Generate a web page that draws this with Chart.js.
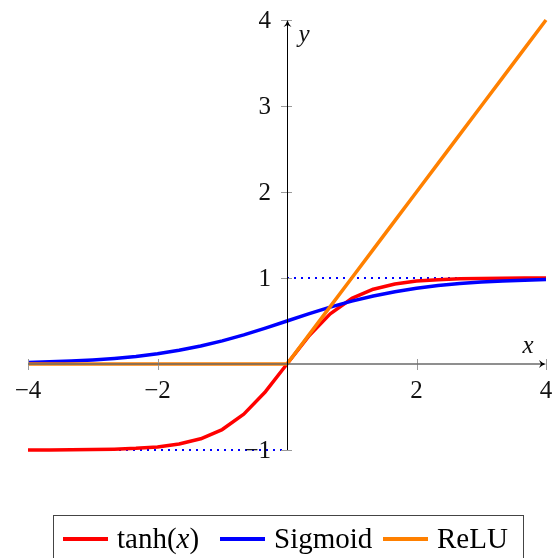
<!DOCTYPE html>
<html>
<head>
<meta charset="utf-8">
<script src="https://cdn.jsdelivr.net/npm/chart.js@4"></script>
<style>
  body { margin: 0; background: #fff; }
  #wrap { position: relative; width: 553px; height: 558px; overflow: hidden; }
  #legend {
    position: absolute; left: 53px; top: 515px; width: 469px; height: 60px;
    border: 1px solid #444; font-family: "Liberation Serif", serif; font-size: 29px;
  }
  .item { position: absolute; top: 6px; white-space: nowrap; }
  .swatch { display: inline-block; width: 45px; height: 4px; vertical-align: middle; margin-right: 9px; position: relative; top: -2px; }
</style>
</head>
<body>
<div id="wrap">
  <canvas id="plot" width="553" height="558"></canvas>
  <div id="legend"></div>
</div>
<script>
// sample points (25 samples on [-4, 4])
const xValues = [-4, -3.667, -3.333, -3, -2.667, -2.333, -2, -1.667, -1.333, -1, -0.667, -0.333, 0,
                 0.333, 0.667, 1, 1.333, 1.667, 2, 2.333, 2.667, 3, 3.333, 3.667, 4];
const tanhValues = [-0.999, -0.999, -0.997, -0.995, -0.990, -0.981, -0.964, -0.931, -0.870, -0.762, -0.583, -0.322, 0,
                    0.322, 0.583, 0.762, 0.870, 0.931, 0.964, 0.981, 0.990, 0.995, 0.997, 0.999, 0.999];
const sigmoidValues = [0.018, 0.025, 0.034, 0.047, 0.065, 0.088, 0.119, 0.159, 0.209, 0.269, 0.339, 0.417, 0.5,
                       0.583, 0.661, 0.731, 0.791, 0.841, 0.881, 0.912, 0.935, 0.953, 0.966, 0.975, 0.982];
const reluValues = [0, 0, 0, 0, 0, 0, 0, 0, 0, 0, 0, 0, 0,
                    0.333, 0.667, 1, 1.333, 1.667, 2, 2.333, 2.667, 3, 3.333, 3.667, 4];
const seriesNames = ['tanh(x)', 'Sigmoid', 'ReLU'];
const guideUpperX = [0, 4];
const guideUpperY = [1, 1];
const guideLowerX = [-4, 0];
const guideLowerY = [-1, -1];
const xTicks = [-4, -2, 2, 4];
const yTicks = [-1, 1, 2, 3, 4];

const RED = 'rgb(255,0,0)', BLUE = 'rgb(0,0,255)', ORANGE = 'rgb(255,128,0)';

function pts(xs, ys) {
    return xs.map((x, i) => ({ x: x, y: ys[i] }));
}

const axesPlugin = {
    id: 'axes',
    afterDatasetsDraw(chart) {
        const ctx = chart.ctx;
        const xs = chart.scales.x, ys = chart.scales.y;
        const x0 = xs.getPixelForValue(0);
        const y0 = ys.getPixelForValue(0);
        ctx.save();

        // tick marks
        ctx.strokeStyle = '#9a9a9a';
        ctx.lineWidth = 1;
        xTicks.forEach(v => {
            const px = Math.round(xs.getPixelForValue(v)) + 0.5;
            ctx.beginPath(); ctx.moveTo(px, y0 - 5); ctx.lineTo(px, y0 + 6); ctx.stroke();
        });
        yTicks.forEach(v => {
            const py = Math.round(ys.getPixelForValue(v)) + 0.5;
            ctx.beginPath(); ctx.moveTo(x0 - 6, py); ctx.lineTo(x0 + 5, py); ctx.stroke();
        });

        // x axis
        ctx.strokeStyle = '#6a6a6a';
        ctx.lineWidth = 1.3;
        ctx.beginPath(); ctx.moveTo(xs.left, y0); ctx.lineTo(xs.right - 2, y0); ctx.stroke();
        // y axis
        ctx.strokeStyle = '#000';
        ctx.lineWidth = 1;
        ctx.beginPath(); ctx.moveTo(x0 + 0.5, ys.bottom); ctx.lineTo(x0 + 0.5, ys.top + 2); ctx.stroke();

        // arrow heads
        ctx.fillStyle = '#000';
        ctx.beginPath();
        ctx.moveTo(xs.right, y0);
        ctx.quadraticCurveTo(xs.right - 4, y0 - 1, xs.right - 7, y0 - 4);
        ctx.lineTo(xs.right - 5, y0);
        ctx.lineTo(xs.right - 7, y0 + 4);
        ctx.quadraticCurveTo(xs.right - 4, y0 + 1, xs.right, y0);
        ctx.fill();
        ctx.beginPath();
        ctx.moveTo(x0 + 0.5, ys.top);
        ctx.quadraticCurveTo(x0 - 0.5, ys.top + 4, x0 - 3.5, ys.top + 7);
        ctx.lineTo(x0 + 0.5, ys.top + 5);
        ctx.lineTo(x0 + 4.5, ys.top + 7);
        ctx.quadraticCurveTo(x0 + 1.5, ys.top + 4, x0 + 0.5, ys.top);
        ctx.fill();

        // tick labels
        ctx.fillStyle = '#111';
        ctx.font = '25px "Liberation Serif", serif';
        ctx.textBaseline = 'middle';
        ctx.textAlign = 'center';
        xTicks.forEach(v => {
            const label = (v < 0 ? '\u2212' : '') + Math.abs(v);
            ctx.fillText(label, xs.getPixelForValue(v), y0 + 27);
        });
        ctx.textAlign = 'right';
        yTicks.forEach(v => {
            const label = (v < 0 ? '\u2212' : '') + Math.abs(v);
            ctx.fillText(label, x0 - 16, ys.getPixelForValue(v) + 1);
        });

        // axis names
        ctx.font = 'italic 25px "Liberation Serif", serif';
        ctx.textAlign = 'center';
        ctx.fillText('x', xs.right - 18, y0 - 18);
        ctx.fillText('y', x0 + 17, ys.top + 15);
        ctx.restore();
    }
};

const guideStyle = {
    borderColor: BLUE, borderWidth: 2, borderDash: [2, 5], pointRadius: 0, order: 5, clip: false
};

new Chart(document.getElementById('plot'), {
    type: 'line',
    data: {
        datasets: [
            { label: seriesNames[0], data: pts(xValues, tanhValues), borderColor: RED, borderWidth: 3.5, pointRadius: 0, order: 3, clip: false },
            { label: seriesNames[1], data: pts(xValues, sigmoidValues), borderColor: BLUE, borderWidth: 3.5, pointRadius: 0, order: 2, clip: false },
            { label: seriesNames[2], data: pts(xValues, reluValues), borderColor: ORANGE, borderWidth: 3.5, pointRadius: 0, order: 1, clip: false },
            Object.assign({ label: 'g1', data: pts(guideUpperX, guideUpperY) }, guideStyle),
            Object.assign({ label: 'g2', data: pts(guideLowerX, guideLowerY) }, guideStyle)
        ]
    },
    options: {
        responsive: false,
        animation: false,
        devicePixelRatio: 1,
        layout: { padding: { left: 28, right: 7, top: 20, bottom: 108 } },
        elements: { line: { tension: 0, borderCapStyle: 'butt', borderJoinStyle: 'round' } },
        scales: {
            x: { type: 'linear', min: -4, max: 4, display: false },
            y: { type: 'linear', min: -1, max: 4, display: false }
        },
        plugins: {
            legend: { display: false },
            tooltip: { enabled: false }
        }
    },
    plugins: [axesPlugin]
});

// html legend built from the series names
const legend = document.getElementById('legend');
const colors = [RED, BLUE, ORANGE];
const lefts = [9, 166, 329];
seriesNames.forEach((name, i) => {
    const item = document.createElement('span');
    item.className = 'item';
    item.style.left = lefts[i] + 'px';
    const sw = document.createElement('span');
    sw.className = 'swatch';
    sw.style.background = colors[i];
    item.appendChild(sw);
    const txt = document.createElement('span');
    if (name === 'tanh(x)') {
        txt.innerHTML = 'tanh(<i>x</i>)';
    } else {
        txt.textContent = name;
    }
    item.appendChild(txt);
    legend.appendChild(item);
});
</script>
</body>
</html>
